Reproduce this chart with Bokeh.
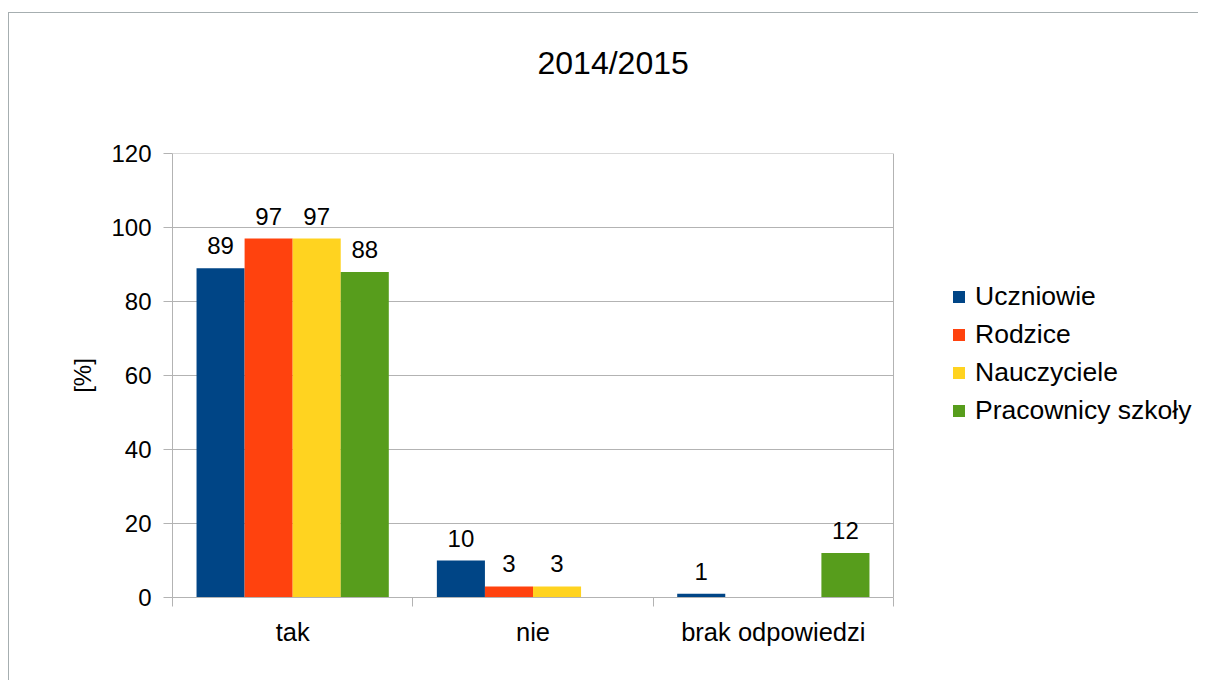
from bokeh.plotting import figure
from bokeh.models import (ColumnDataSource, FixedTicker, Legend, LegendItem,
                          LabelSet, Range1d, Title)
from bokeh.core.properties import value
from bokeh.embed import file_html
from bokeh.resources import INLINE

title = "2014/2015"
categories = ["tak", "nie", "brak odpowiedzi"]
series = ["Uczniowie", "Rodzice", "Nauczyciele", "Pracownicy szkoły"]
uczniowie = [89, 10, 1]
rodzice = [97, 3, 0]
nauczyciele = [97, 3, 0]
pracownicy = [88, 0, 12]
colors = ["#004586", "#ff420e", "#ffd320", "#579d1c"]
y_ticks = [0, 20, 40, 60, 80, 100, 120]
y_label = "[%]"

FONT = "Liberation Sans"
GRID = "#b3b3b3"

W, H = 1190, 668
MBL, MBT, FH = 163, 140, 444
PLOT_W = 721                      # pixel width of the category area
FW = W - MBL                      # frame reaches the right edge (legend lives inside)
ncat = len(categories)
x_end = ncat * FW / PLOT_W
y_max = y_ticks[-1]

p = figure(width=W, height=H, output_backend="svg", toolbar_location=None,
           x_range=Range1d(0, x_end), y_range=Range1d(0, y_max),
           min_border_left=MBL, min_border_top=MBT, min_border_bottom=H - MBT - FH,
           min_border_right=0)
p.styles = {"border-top": "1px solid #a6aeb0", "border-left": "1px solid #a6aeb0",
            "margin-left": "8px", "margin-top": "12px"}
p.outline_line_color = None
p.background_fill_color = "white"
p.border_fill_color = "white"

# grid lines limited to the category area, plus its right border
p.ygrid.visible = False
p.xgrid.visible = False
p.segment(x0=[0] * len(y_ticks), x1=[ncat] * len(y_ticks), y0=y_ticks, y1=y_ticks,
          line_color=GRID, line_width=1)
p.segment(x0=[ncat], x1=[ncat], y0=[0], y1=[y_max], line_color=GRID, line_width=1)

values = [uczniowie, rodzice, nauczyciele, pracownicy]
offsets = [-0.3, -0.1, 0.1, 0.3]
bar_w = 0.2
items = []
lab_x, lab_y, lab_t = [], [], []
for name, vals, col, off in zip(series, values, colors, offsets):
    xs = [i + 0.5 + off for i in range(ncat)]
    src = ColumnDataSource(dict(x=xs, top=vals))
    r = p.vbar(x="x", top="top", width=bar_w, bottom=0, source=src,
               fill_color=col, line_color=None)
    items.append(LegendItem(label=name, renderers=[r]))
    for x, v in zip(xs, vals):
        if v > 0:
            lab_x.append(x); lab_y.append(v); lab_t.append(str(v))

lsrc = ColumnDataSource(dict(x=lab_x, y=lab_y, t=lab_t))
p.add_layout(LabelSet(x="x", y="y", text="t", source=lsrc, y_offset=14,
                      text_align="center", text_baseline="alphabetic",
                      text_font=value(FONT), text_font_size=value("24px"),
                      text_color="black"))

# axes
p.xaxis.bounds = (0, ncat)
p.xaxis.ticker = FixedTicker(ticks=[i + 0.5 for i in range(ncat)],
                             minor_ticks=list(range(ncat + 1)))
p.xaxis.major_label_overrides = {i + 0.5: c for i, c in enumerate(categories)}
p.xaxis.major_tick_line_color = None
p.xaxis.major_tick_out = 9
p.xaxis.major_tick_in = 0
p.xaxis.minor_tick_line_color = GRID
p.xaxis.minor_tick_out = 9
p.xaxis.minor_tick_in = 0
p.xaxis.axis_line_color = GRID
p.xaxis.major_label_standoff = 11
p.xaxis.major_label_text_font_size = "25.5px"

p.yaxis.ticker = FixedTicker(ticks=y_ticks)
p.yaxis.major_tick_out = 9
p.yaxis.major_tick_in = 0
p.yaxis.major_tick_line_color = GRID
p.yaxis.minor_tick_line_color = None
p.yaxis.axis_line_color = GRID
p.yaxis.major_label_standoff = 12
p.yaxis.axis_label = y_label
p.yaxis.axis_label_standoff = 12
p.yaxis.axis_label_text_font_style = "normal"
p.yaxis.major_label_text_font_size = "24px"

for ax in (p.xaxis, p.yaxis):
    ax.major_label_text_font = FONT
    ax.major_label_text_color = "black"
    ax.axis_label_text_font = FONT
    ax.axis_label_text_font_size = "24px"
    ax.axis_label_text_color = "black"

# trailing empty line lifts the title away from the plot area
t = Title(text=title + "\n ", align="left", offset=365, standoff=38,
          text_line_height=1.5,
          text_font=FONT, text_font_size="32px", text_font_style="normal",
          text_color="black")
p.add_layout(t, "above")

legend = Legend(items=items, location=(779, 597 - 426),
                glyph_width=15, glyph_height=15, label_standoff=9, spacing=7,
                padding=10, margin=0, border_line_color=None, background_fill_alpha=0,
                label_text_font=FONT, label_text_font_size="26.5px",
                label_text_color="black")
p.add_layout(legend)

open("out.html", "w").write(file_html(p, INLINE))
